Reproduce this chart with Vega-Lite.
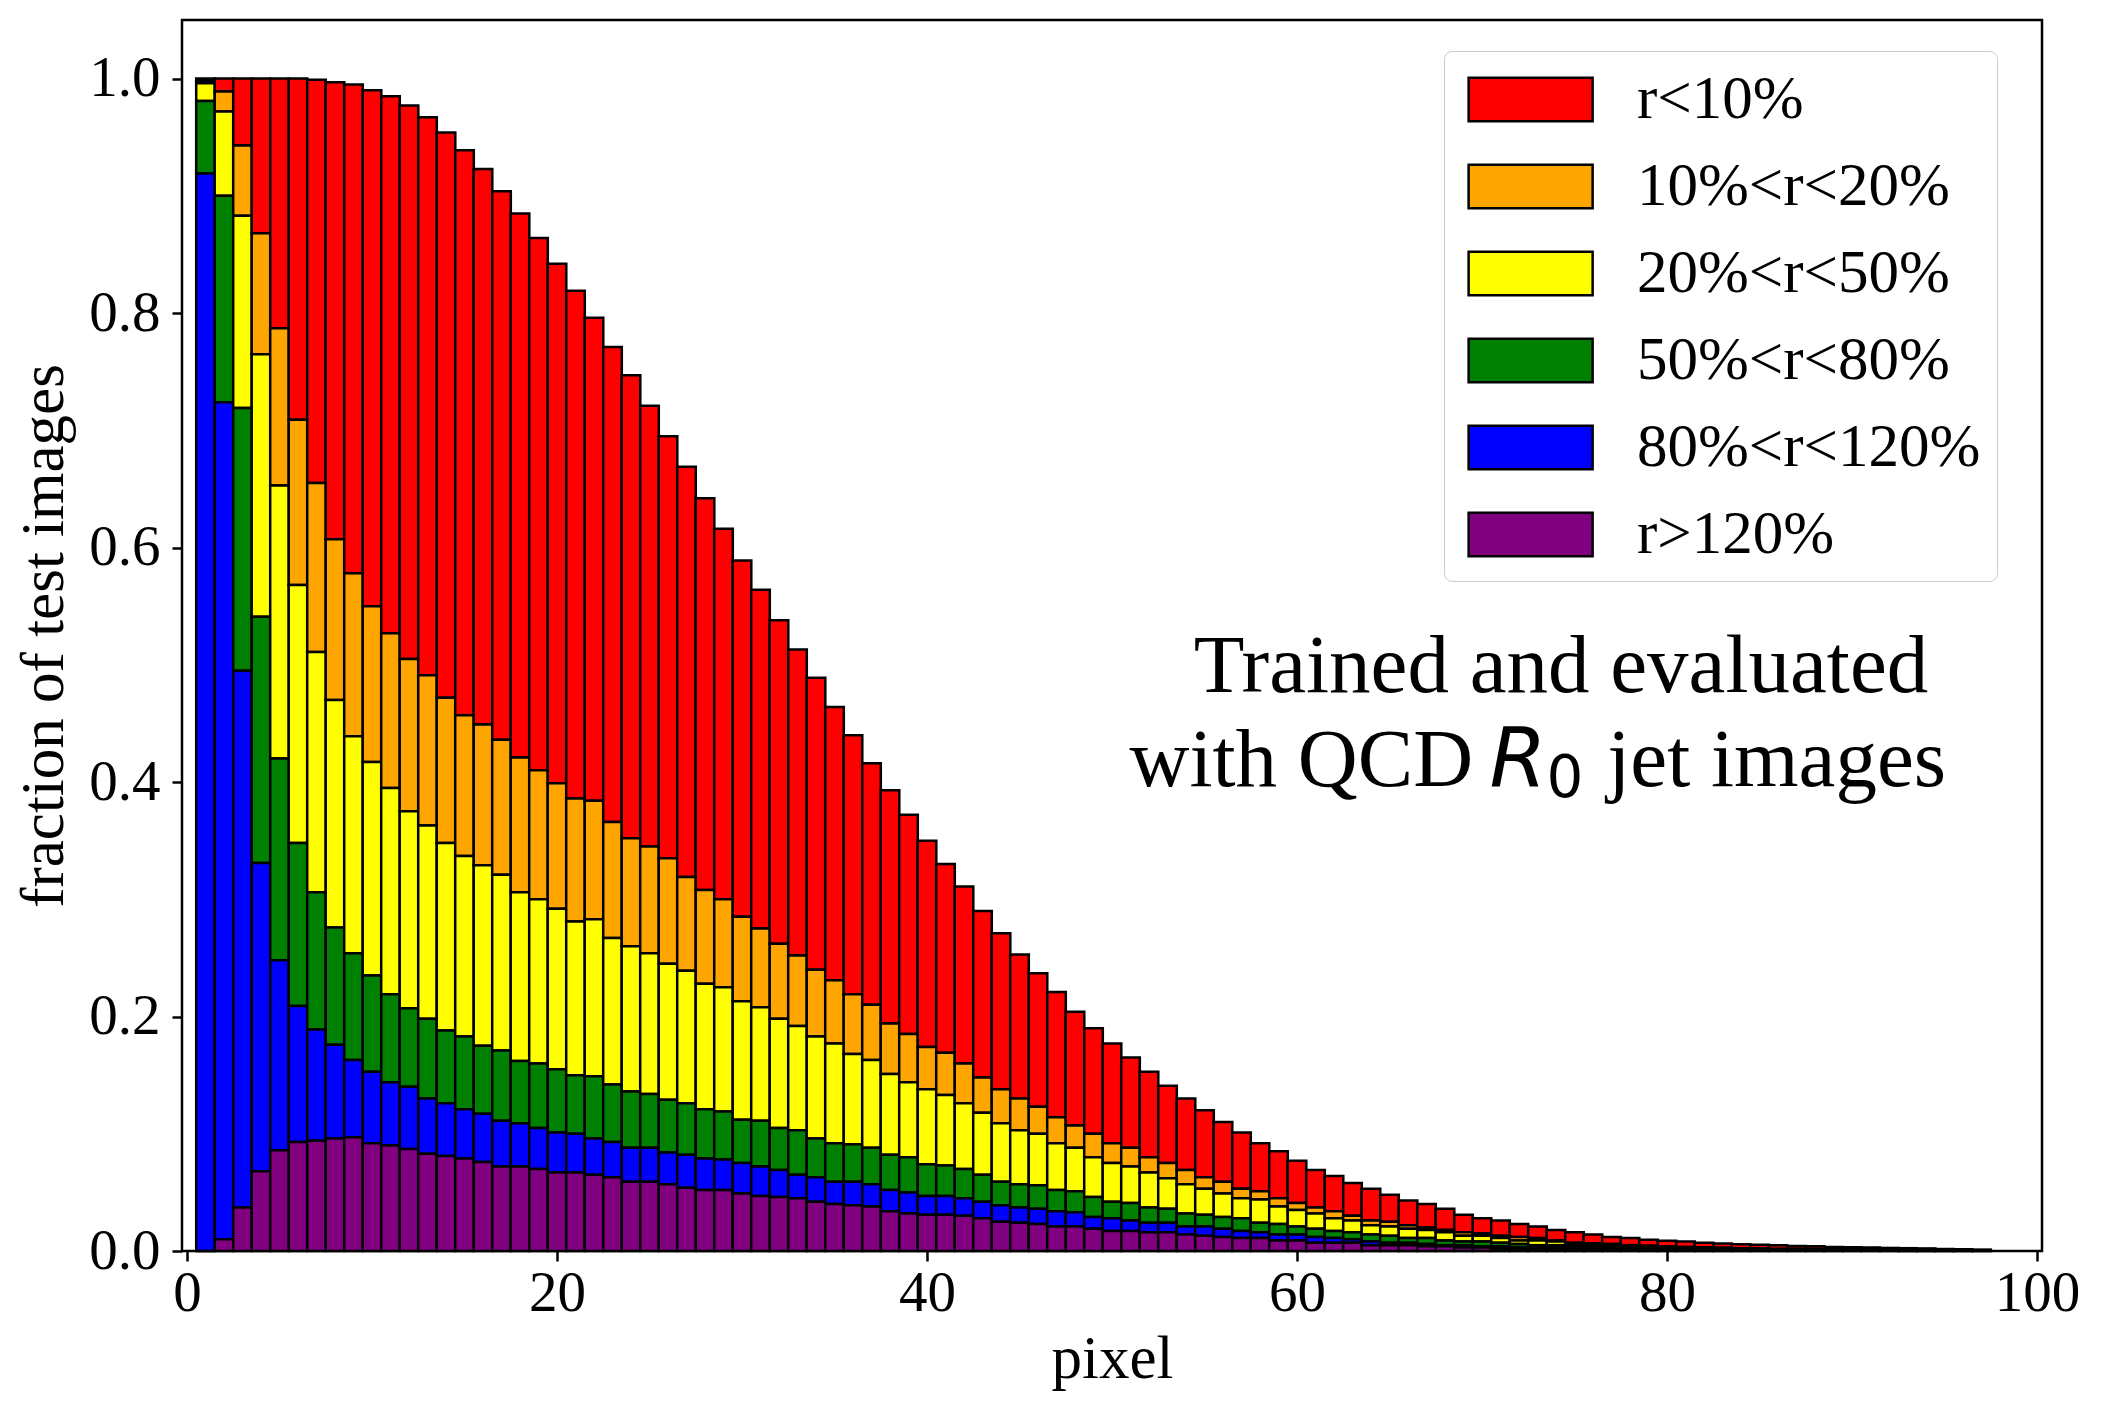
{
  "$schema": "https://vega.github.io/schema/vega-lite/v6.json",
  "width": 1860,
  "height": 1231,
  "autosize": {"type": "none"},
  "padding": {"left": 182, "top": 20, "right": 65, "bottom": 161},
  "background": "white",
  "layer": [
    {
      "data": {
        "values": [
          {"px": 1, "r1_lt10": 0.002, "r2_10_20": 0.002, "r3_20_50": 0.015, "r4_50_80": 0.062, "r5_80_120": 0.919, "r6_gt120": 0},
          {"px": 2, "r1_lt10": 0.011, "r2_10_20": 0.017, "r3_20_50": 0.072, "r4_50_80": 0.176, "r5_80_120": 0.714, "r6_gt120": 0.010},
          {"px": 3, "r1_lt10": 0.057, "r2_10_20": 0.060, "r3_20_50": 0.164, "r4_50_80": 0.224, "r5_80_120": 0.458, "r6_gt120": 0.037},
          {"px": 4, "r1_lt10": 0.132, "r2_10_20": 0.103, "r3_20_50": 0.224, "r4_50_80": 0.210, "r5_80_120": 0.263, "r6_gt120": 0.068},
          {"px": 5, "r1_lt10": 0.213, "r2_10_20": 0.134, "r3_20_50": 0.233, "r4_50_80": 0.172, "r5_80_120": 0.162, "r6_gt120": 0.086},
          {"px": 6, "r1_lt10": 0.291, "r2_10_20": 0.141, "r3_20_50": 0.220, "r4_50_80": 0.139, "r5_80_120": 0.116, "r6_gt120": 0.093},
          {"px": 7, "r1_lt10": 0.344, "r2_10_20": 0.144, "r3_20_50": 0.205, "r4_50_80": 0.117, "r5_80_120": 0.095, "r6_gt120": 0.094},
          {"px": 8, "r1_lt10": 0.390, "r2_10_20": 0.137, "r3_20_50": 0.194, "r4_50_80": 0.100, "r5_80_120": 0.080, "r6_gt120": 0.096},
          {"px": 9, "r1_lt10": 0.417, "r2_10_20": 0.139, "r3_20_50": 0.185, "r4_50_80": 0.091, "r5_80_120": 0.066, "r6_gt120": 0.097},
          {"px": 10, "r1_lt10": 0.440, "r2_10_20": 0.133, "r3_20_50": 0.182, "r4_50_80": 0.082, "r5_80_120": 0.061, "r6_gt120": 0.092},
          {"px": 11, "r1_lt10": 0.458, "r2_10_20": 0.132, "r3_20_50": 0.176, "r4_50_80": 0.075, "r5_80_120": 0.054, "r6_gt120": 0.090},
          {"px": 12, "r1_lt10": 0.472, "r2_10_20": 0.130, "r3_20_50": 0.168, "r4_50_80": 0.067, "r5_80_120": 0.053, "r6_gt120": 0.087},
          {"px": 13, "r1_lt10": 0.476, "r2_10_20": 0.128, "r3_20_50": 0.165, "r4_50_80": 0.068, "r5_80_120": 0.047, "r6_gt120": 0.083},
          {"px": 14, "r1_lt10": 0.482, "r2_10_20": 0.124, "r3_20_50": 0.160, "r4_50_80": 0.062, "r5_80_120": 0.045, "r6_gt120": 0.081},
          {"px": 15, "r1_lt10": 0.482, "r2_10_20": 0.120, "r3_20_50": 0.154, "r4_50_80": 0.062, "r5_80_120": 0.042, "r6_gt120": 0.079},
          {"px": 16, "r1_lt10": 0.474, "r2_10_20": 0.120, "r3_20_50": 0.154, "r4_50_80": 0.058, "r5_80_120": 0.041, "r6_gt120": 0.076},
          {"px": 17, "r1_lt10": 0.468, "r2_10_20": 0.115, "r3_20_50": 0.150, "r4_50_80": 0.060, "r5_80_120": 0.039, "r6_gt120": 0.072},
          {"px": 18, "r1_lt10": 0.464, "r2_10_20": 0.115, "r3_20_50": 0.144, "r4_50_80": 0.053, "r5_80_120": 0.037, "r6_gt120": 0.072},
          {"px": 19, "r1_lt10": 0.454, "r2_10_20": 0.110, "r3_20_50": 0.140, "r4_50_80": 0.055, "r5_80_120": 0.035, "r6_gt120": 0.070},
          {"px": 20, "r1_lt10": 0.443, "r2_10_20": 0.107, "r3_20_50": 0.137, "r4_50_80": 0.054, "r5_80_120": 0.034, "r6_gt120": 0.067},
          {"px": 21, "r1_lt10": 0.433, "r2_10_20": 0.105, "r3_20_50": 0.131, "r4_50_80": 0.050, "r5_80_120": 0.033, "r6_gt120": 0.067},
          {"px": 22, "r1_lt10": 0.412, "r2_10_20": 0.101, "r3_20_50": 0.134, "r4_50_80": 0.053, "r5_80_120": 0.031, "r6_gt120": 0.065},
          {"px": 23, "r1_lt10": 0.405, "r2_10_20": 0.099, "r3_20_50": 0.125, "r4_50_80": 0.049, "r5_80_120": 0.030, "r6_gt120": 0.063},
          {"px": 24, "r1_lt10": 0.395, "r2_10_20": 0.092, "r3_20_50": 0.124, "r4_50_80": 0.048, "r5_80_120": 0.029, "r6_gt120": 0.059},
          {"px": 25, "r1_lt10": 0.376, "r2_10_20": 0.091, "r3_20_50": 0.120, "r4_50_80": 0.046, "r5_80_120": 0.029, "r6_gt120": 0.059},
          {"px": 26, "r1_lt10": 0.360, "r2_10_20": 0.090, "r3_20_50": 0.116, "r4_50_80": 0.045, "r5_80_120": 0.027, "r6_gt120": 0.057},
          {"px": 27, "r1_lt10": 0.350, "r2_10_20": 0.080, "r3_20_50": 0.113, "r4_50_80": 0.044, "r5_80_120": 0.028, "r6_gt120": 0.054},
          {"px": 28, "r1_lt10": 0.334, "r2_10_20": 0.080, "r3_20_50": 0.107, "r4_50_80": 0.042, "r5_80_120": 0.027, "r6_gt120": 0.052},
          {"px": 29, "r1_lt10": 0.316, "r2_10_20": 0.075, "r3_20_50": 0.106, "r4_50_80": 0.041, "r5_80_120": 0.026, "r6_gt120": 0.052},
          {"px": 30, "r1_lt10": 0.304, "r2_10_20": 0.072, "r3_20_50": 0.101, "r4_50_80": 0.037, "r5_80_120": 0.026, "r6_gt120": 0.049},
          {"px": 31, "r1_lt10": 0.289, "r2_10_20": 0.067, "r3_20_50": 0.097, "r4_50_80": 0.039, "r5_80_120": 0.025, "r6_gt120": 0.047},
          {"px": 32, "r1_lt10": 0.276, "r2_10_20": 0.064, "r3_20_50": 0.093, "r4_50_80": 0.036, "r5_80_120": 0.023, "r6_gt120": 0.046},
          {"px": 33, "r1_lt10": 0.261, "r2_10_20": 0.060, "r3_20_50": 0.089, "r4_50_80": 0.038, "r5_80_120": 0.020, "r6_gt120": 0.045},
          {"px": 34, "r1_lt10": 0.249, "r2_10_20": 0.057, "r3_20_50": 0.087, "r4_50_80": 0.033, "r5_80_120": 0.021, "r6_gt120": 0.042},
          {"px": 35, "r1_lt10": 0.233, "r2_10_20": 0.054, "r3_20_50": 0.085, "r4_50_80": 0.033, "r5_80_120": 0.019, "r6_gt120": 0.040},
          {"px": 36, "r1_lt10": 0.221, "r2_10_20": 0.051, "r3_20_50": 0.077, "r4_50_80": 0.032, "r5_80_120": 0.020, "r6_gt120": 0.039},
          {"px": 37, "r1_lt10": 0.206, "r2_10_20": 0.047, "r3_20_50": 0.075, "r4_50_80": 0.031, "r5_80_120": 0.019, "r6_gt120": 0.038},
          {"px": 38, "r1_lt10": 0.199, "r2_10_20": 0.043, "r3_20_50": 0.069, "r4_50_80": 0.030, "r5_80_120": 0.018, "r6_gt120": 0.034},
          {"px": 39, "r1_lt10": 0.187, "r2_10_20": 0.041, "r3_20_50": 0.064, "r4_50_80": 0.030, "r5_80_120": 0.018, "r6_gt120": 0.032},
          {"px": 40, "r1_lt10": 0.176, "r2_10_20": 0.036, "r3_20_50": 0.064, "r4_50_80": 0.027, "r5_80_120": 0.016, "r6_gt120": 0.031},
          {"px": 41, "r1_lt10": 0.161, "r2_10_20": 0.036, "r3_20_50": 0.060, "r4_50_80": 0.026, "r5_80_120": 0.016, "r6_gt120": 0.031},
          {"px": 42, "r1_lt10": 0.151, "r2_10_20": 0.034, "r3_20_50": 0.056, "r4_50_80": 0.025, "r5_80_120": 0.015, "r6_gt120": 0.030},
          {"px": 43, "r1_lt10": 0.142, "r2_10_20": 0.030, "r3_20_50": 0.053, "r4_50_80": 0.023, "r5_80_120": 0.014, "r6_gt120": 0.028},
          {"px": 44, "r1_lt10": 0.133, "r2_10_20": 0.029, "r3_20_50": 0.050, "r4_50_80": 0.020, "r5_80_120": 0.014, "r6_gt120": 0.025},
          {"px": 45, "r1_lt10": 0.123, "r2_10_20": 0.027, "r3_20_50": 0.046, "r4_50_80": 0.020, "r5_80_120": 0.013, "r6_gt120": 0.024},
          {"px": 46, "r1_lt10": 0.114, "r2_10_20": 0.023, "r3_20_50": 0.044, "r4_50_80": 0.020, "r5_80_120": 0.013, "r6_gt120": 0.023},
          {"px": 47, "r1_lt10": 0.107, "r2_10_20": 0.022, "r3_20_50": 0.040, "r4_50_80": 0.018, "r5_80_120": 0.013, "r6_gt120": 0.021},
          {"px": 48, "r1_lt10": 0.097, "r2_10_20": 0.019, "r3_20_50": 0.037, "r4_50_80": 0.018, "r5_80_120": 0.012, "r6_gt120": 0.021},
          {"px": 49, "r1_lt10": 0.090, "r2_10_20": 0.020, "r3_20_50": 0.034, "r4_50_80": 0.017, "r5_80_120": 0.010, "r6_gt120": 0.019},
          {"px": 50, "r1_lt10": 0.085, "r2_10_20": 0.017, "r3_20_50": 0.033, "r4_50_80": 0.014, "r5_80_120": 0.011, "r6_gt120": 0.017},
          {"px": 51, "r1_lt10": 0.077, "r2_10_20": 0.016, "r3_20_50": 0.031, "r4_50_80": 0.015, "r5_80_120": 0.009, "r6_gt120": 0.017},
          {"px": 52, "r1_lt10": 0.073, "r2_10_20": 0.013, "r3_20_50": 0.030, "r4_50_80": 0.013, "r5_80_120": 0.008, "r6_gt120": 0.016},
          {"px": 53, "r1_lt10": 0.066, "r2_10_20": 0.013, "r3_20_50": 0.026, "r4_50_80": 0.012, "r5_80_120": 0.008, "r6_gt120": 0.016},
          {"px": 54, "r1_lt10": 0.061, "r2_10_20": 0.012, "r3_20_50": 0.025, "r4_50_80": 0.011, "r5_80_120": 0.007, "r6_gt120": 0.014},
          {"px": 55, "r1_lt10": 0.057, "r2_10_20": 0.010, "r3_20_50": 0.022, "r4_50_80": 0.010, "r5_80_120": 0.008, "r6_gt120": 0.013},
          {"px": 56, "r1_lt10": 0.051, "r2_10_20": 0.010, "r3_20_50": 0.020, "r4_50_80": 0.010, "r5_80_120": 0.007, "r6_gt120": 0.012},
          {"px": 57, "r1_lt10": 0.048, "r2_10_20": 0.008, "r3_20_50": 0.017, "r4_50_80": 0.011, "r5_80_120": 0.006, "r6_gt120": 0.011},
          {"px": 58, "r1_lt10": 0.041, "r2_10_20": 0.007, "r3_20_50": 0.020, "r4_50_80": 0.008, "r5_80_120": 0.005, "r6_gt120": 0.011},
          {"px": 59, "r1_lt10": 0.040, "r2_10_20": 0.007, "r3_20_50": 0.015, "r4_50_80": 0.009, "r5_80_120": 0.005, "r6_gt120": 0.009},
          {"px": 60, "r1_lt10": 0.036, "r2_10_20": 0.006, "r3_20_50": 0.014, "r4_50_80": 0.007, "r5_80_120": 0.005, "r6_gt120": 0.009},
          {"px": 61, "r1_lt10": 0.032, "r2_10_20": 0.005, "r3_20_50": 0.013, "r4_50_80": 0.007, "r5_80_120": 0.005, "r6_gt120": 0.007},
          {"px": 62, "r1_lt10": 0.030, "r2_10_20": 0.006, "r3_20_50": 0.011, "r4_50_80": 0.006, "r5_80_120": 0.004, "r6_gt120": 0.007},
          {"px": 63, "r1_lt10": 0.028, "r2_10_20": 0.004, "r3_20_50": 0.010, "r4_50_80": 0.006, "r5_80_120": 0.003, "r6_gt120": 0.007},
          {"px": 64, "r1_lt10": 0.027, "r2_10_20": 0.004, "r3_20_50": 0.008, "r4_50_80": 0.006, "r5_80_120": 0.003, "r6_gt120": 0.005},
          {"px": 65, "r1_lt10": 0.023, "r2_10_20": 0.004, "r3_20_50": 0.008, "r4_50_80": 0.006, "r5_80_120": 0.002, "r6_gt120": 0.005},
          {"px": 66, "r1_lt10": 0.021, "r2_10_20": 0.003, "r3_20_50": 0.008, "r4_50_80": 0.004, "r5_80_120": 0.002, "r6_gt120": 0.005},
          {"px": 67, "r1_lt10": 0.020, "r2_10_20": 0.002, "r3_20_50": 0.007, "r4_50_80": 0.005, "r5_80_120": 0.002, "r6_gt120": 0.004},
          {"px": 68, "r1_lt10": 0.018, "r2_10_20": 0.002, "r3_20_50": 0.007, "r4_50_80": 0.004, "r5_80_120": 0.001, "r6_gt120": 0.004},
          {"px": 69, "r1_lt10": 0.015, "r2_10_20": 0.003, "r3_20_50": 0.005, "r4_50_80": 0.003, "r5_80_120": 0.002, "r6_gt120": 0.003},
          {"px": 70, "r1_lt10": 0.013, "r2_10_20": 0.002, "r3_20_50": 0.005, "r4_50_80": 0.004, "r5_80_120": 0.001, "r6_gt120": 0.003},
          {"px": 71, "r1_lt10": 0.013, "r2_10_20": 0.002, "r3_20_50": 0.004, "r4_50_80": 0.003, "r5_80_120": 0.002, "r6_gt120": 0.002},
          {"px": 72, "r1_lt10": 0.011, "r2_10_20": 0.003, "r3_20_50": 0.003, "r4_50_80": 0.003, "r5_80_120": 0.001, "r6_gt120": 0.002},
          {"px": 73, "r1_lt10": 0.010, "r2_10_20": 0.002, "r3_20_50": 0.004, "r4_50_80": 0.002, "r5_80_120": 0.001, "r6_gt120": 0.002},
          {"px": 74, "r1_lt10": 0.009, "r2_10_20": 0.001, "r3_20_50": 0.003, "r4_50_80": 0.002, "r5_80_120": 0.001, "r6_gt120": 0.002},
          {"px": 75, "r1_lt10": 0.009, "r2_10_20": 0.001, "r3_20_50": 0.002, "r4_50_80": 0.001, "r5_80_120": 0.002, "r6_gt120": 0.001},
          {"px": 76, "r1_lt10": 0.0075, "r2_10_20": 0.001, "r3_20_50": 0.0015, "r4_50_80": 0.002, "r5_80_120": 0.001, "r6_gt120": 0.001},
          {"px": 77, "r1_lt10": 0.006, "r2_10_20": 0.001, "r3_20_50": 0.0015, "r4_50_80": 0.0015, "r5_80_120": 0.001, "r6_gt120": 0.001},
          {"px": 78, "r1_lt10": 0.006, "r2_10_20": 0.0005, "r3_20_50": 0.0015, "r4_50_80": 0.001, "r5_80_120": 0.001, "r6_gt120": 0.001},
          {"px": 79, "r1_lt10": 0.005, "r2_10_20": 0.0005, "r3_20_50": 0.0012, "r4_50_80": 0.0012, "r5_80_120": 0.0008, "r6_gt120": 0.0008},
          {"px": 80, "r1_lt10": 0.0049, "r2_10_20": 0.0005, "r3_20_50": 0.001, "r4_50_80": 0.001, "r5_80_120": 0.0007, "r6_gt120": 0.0007},
          {"px": 81, "r1_lt10": 0.0046, "r2_10_20": 0.0004, "r3_20_50": 0.0009, "r4_50_80": 0.0009, "r5_80_120": 0.0006, "r6_gt120": 0.0006},
          {"px": 82, "r1_lt10": 0.004, "r2_10_20": 0.0004, "r3_20_50": 0.0008, "r4_50_80": 0.0008, "r5_80_120": 0.0005, "r6_gt120": 0.0005},
          {"px": 83, "r1_lt10": 0.0036, "r2_10_20": 0.0003, "r3_20_50": 0.0007, "r4_50_80": 0.0007, "r5_80_120": 0.0005, "r6_gt120": 0.0005},
          {"px": 84, "r1_lt10": 0.0035, "r2_10_20": 0.0003, "r3_20_50": 0.0006, "r4_50_80": 0.0006, "r5_80_120": 0.0004, "r6_gt120": 0.0004},
          {"px": 85, "r1_lt10": 0.0031, "r2_10_20": 0.0003, "r3_20_50": 0.0006, "r4_50_80": 0.0006, "r5_80_120": 0.0004, "r6_gt120": 0.0004},
          {"px": 86, "r1_lt10": 0.003, "r2_10_20": 0.0002, "r3_20_50": 0.0005, "r4_50_80": 0.0005, "r5_80_120": 0.0003, "r6_gt120": 0.0003},
          {"px": 87, "r1_lt10": 0.0024, "r2_10_20": 0.0002, "r3_20_50": 0.0005, "r4_50_80": 0.0005, "r5_80_120": 0.0003, "r6_gt120": 0.0003},
          {"px": 88, "r1_lt10": 0.0024, "r2_10_20": 0.0002, "r3_20_50": 0.0004, "r4_50_80": 0.0004, "r5_80_120": 0.0003, "r6_gt120": 0.0003},
          {"px": 89, "r1_lt10": 0.002, "r2_10_20": 0.0002, "r3_20_50": 0.0004, "r4_50_80": 0.0004, "r5_80_120": 0.0002, "r6_gt120": 0.0002},
          {"px": 90, "r1_lt10": 0.002, "r2_10_20": 0.0002, "r3_20_50": 0.0003, "r4_50_80": 0.0003, "r5_80_120": 0.0002, "r6_gt120": 0.0002},
          {"px": 91, "r1_lt10": 0.0019, "r2_10_20": 0.0001, "r3_20_50": 0.0003, "r4_50_80": 0.0003, "r5_80_120": 0.0002, "r6_gt120": 0.0002},
          {"px": 92, "r1_lt10": 0.0015, "r2_10_20": 0.0001, "r3_20_50": 0.0003, "r4_50_80": 0.0003, "r5_80_120": 0.0002, "r6_gt120": 0.0002},
          {"px": 93, "r1_lt10": 0.0014, "r2_10_20": 0.0001, "r3_20_50": 0.0003, "r4_50_80": 0.0003, "r5_80_120": 0.0002, "r6_gt120": 0.0001},
          {"px": 94, "r1_lt10": 0.0015, "r2_10_20": 0.0001, "r3_20_50": 0.0002, "r4_50_80": 0.0002, "r5_80_120": 0.0001, "r6_gt120": 0.0001},
          {"px": 95, "r1_lt10": 0.001, "r2_10_20": 0.0001, "r3_20_50": 0.0002, "r4_50_80": 0.0002, "r5_80_120": 0.0001, "r6_gt120": 0.0001},
          {"px": 96, "r1_lt10": 0.0008, "r2_10_20": 0.0001, "r3_20_50": 0.0002, "r4_50_80": 0.0002, "r5_80_120": 0.0001, "r6_gt120": 0.0001},
          {"px": 97, "r1_lt10": 0.0007, "r2_10_20": 0.0001, "r3_20_50": 0.0001, "r4_50_80": 0.0001, "r5_80_120": 0.0001, "r6_gt120": 0.0001}
        ]
      },
      "transform": [
        {"fold": ["r1_lt10", "r2_10_20", "r3_20_50", "r4_50_80", "r5_80_120", "r6_gt120"], "as": ["range", "fraction"]}
      ],
      "mark": {"type": "bar", "size": 18.6, "stroke": "black", "strokeWidth": 2.5, "opacity": 1},
      "encoding": {
        "x": {
          "field": "px",
          "type": "quantitative",
          "scale": {"domain": [0, 100], "nice": false, "zero": false},
          "axis": {
            "title": "pixel",
            "values": [0, 20, 40, 60, 80, 100],
            "format": "d",
            "labelPadding": 4,
            "titlePadding": 8
          }
        },
        "y": {
          "field": "fraction",
          "type": "quantitative",
          "stack": "zero",
          "scale": {"domain": [0, 1.05], "nice": false},
          "axis": {
            "title": "fraction of test images",
            "values": [0, 0.2, 0.4, 0.6, 0.8, 1.0],
            "format": ".1f",
            "labelPadding": 12,
            "titlePadding": 13
          }
        },
        "color": {
          "field": "range",
          "type": "nominal",
          "scale": {
            "domain": ["r1_lt10", "r2_10_20", "r3_20_50", "r4_50_80", "r5_80_120", "r6_gt120"],
            "range": ["#ff0000", "#ffa500", "#ffff00", "#008000", "#0000ff", "#800080"]
          },
          "legend": {
            "orient": "none",
            "legendX": 1262,
            "legendY": 31,
            "title": null,
            "labelExpr": "{'r1_lt10': 'r<10%', 'r2_10_20': '10%<r<20%', 'r3_20_50': '20%<r<50%', 'r4_50_80': '50%<r<80%', 'r5_80_120': '80%<r<120%', 'r6_gt120': 'r>120%'}[datum.label]",
            "labelLimit": 0,
            "symbolType": "M-0.77,-0.7H3.23V0.7H-0.77Z",
            "symbolSize": 3844,
            "symbolStrokeColor": "black",
            "symbolStrokeWidth": 2.5,
            "symbolOpacity": 1,
            "labelFont": "Liberation Serif",
            "labelFontSize": 61,
            "labelColor": "black",
            "labelOffset": 112,
            "rowPadding": 24,
            "padding": 16,
            "fillColor": "rgba(255,255,255,0.8)",
            "strokeColor": "#cccccc",
            "cornerRadius": 8
          }
        },
        "order": {"field": "range", "sort": "descending"}
      }
    },
    {
      "data": {"values": [{}]},
      "mark": {"type": "text", "text": "Trained and evaluated", "font": "Liberation Serif", "fontSize": 83, "align": "center", "baseline": "alphabetic", "color": "black"},
      "encoding": {"x": {"datum": 74.27, "type": "quantitative"}, "y": {"datum": 0.477, "type": "quantitative"}}
    },
    {
      "data": {"values": [{}]},
      "mark": {"type": "text", "text": "with QCD", "font": "Liberation Serif", "fontSize": 83, "align": "right", "baseline": "alphabetic", "color": "black"},
      "encoding": {"x": {"datum": 69.52, "type": "quantitative"}, "y": {"datum": 0.397, "type": "quantitative"}}
    },
    {
      "data": {"values": [{}]},
      "mark": {"type": "text", "text": "R", "font": "DejaVu Sans", "fontStyle": "italic", "fontSize": 82, "align": "left", "baseline": "alphabetic", "color": "black"},
      "encoding": {"x": {"datum": 70.4, "type": "quantitative"}, "y": {"datum": 0.397, "type": "quantitative"}}
    },
    {
      "data": {"values": [{}]},
      "mark": {"type": "text", "text": "0", "font": "DejaVu Sans", "fontSize": 58, "align": "left", "baseline": "alphabetic", "color": "black"},
      "encoding": {"x": {"datum": 73.49, "type": "quantitative"}, "y": {"datum": 0.3874, "type": "quantitative"}}
    },
    {
      "data": {"values": [{}]},
      "mark": {"type": "text", "text": "jet images", "font": "Liberation Serif", "fontSize": 83, "align": "left", "baseline": "alphabetic", "color": "black"},
      "encoding": {"x": {"datum": 76.77, "type": "quantitative"}, "y": {"datum": 0.397, "type": "quantitative"}}
    }
  ],
  "config": {
    "view": {"stroke": "black", "strokeWidth": 2.5},
    "axis": {
      "grid": false,
      "domain": false,
      "ticks": true,
      "tickColor": "black",
      "tickWidth": 2.5,
      "tickSize": 10,
      "labelFont": "Liberation Serif",
      "labelFontSize": 57,
      "labelColor": "black",
      "labelFlush": false,
      "labelOverlap": false,
      "titleFont": "Liberation Serif",
      "titleFontSize": 61,
      "titleFontWeight": "normal",
      "titleColor": "black"
    }
  }
}
